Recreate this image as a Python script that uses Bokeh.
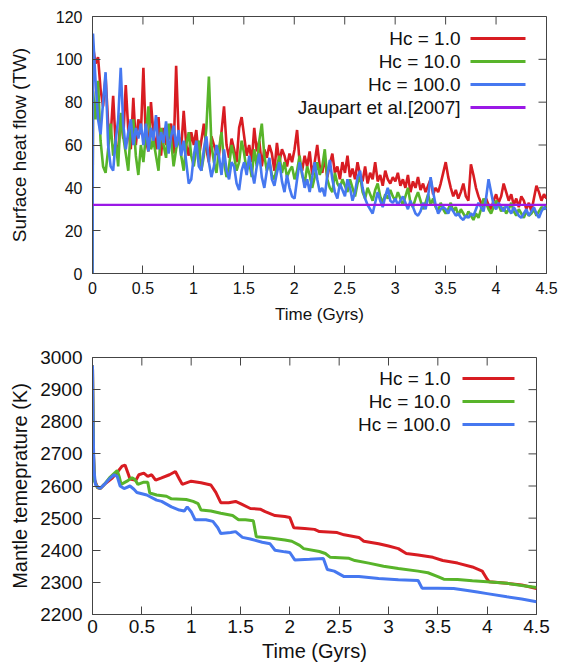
import numpy as np
from bokeh.plotting import figure
from bokeh.models import Range1d, FixedTicker, NumeralTickFormatter, Label, BoxAnnotation
from bokeh.layouts import column
from bokeh.embed import file_html
from bokeh.resources import INLINE

FONT = "Liberation Sans"
AX = "#444444"
TXT = "#111111"
C_RED = "#d81c22"
C_GREEN = "#58b42a"
C_BLUE = "#4678f0"
C_PURPLE = "#9a18e6"

# ---------------- data: surface heat flow (TW) ----------------
series_labels = ["Hc = 1.0", "Hc = 10.0", "Hc = 100.0"]
jaupart_label = "Jaupart et al.[2007]"
jaupart_value = 32

hf_red = [0,
    106, 98, 101, 86, 78, 92, 70, 64, 83, 60, 57, 74, 63, 88, 67, 58, 82, 60, 72, 65,
    96, 62, 57, 80, 65, 58, 73, 55, 68, 60, 63, 70, 56, 97, 64, 58, 76, 60, 55, 66,
    60, 67, 54, 62, 70, 58, 52, 64, 60, 56, 55, 66, 78, 60, 54, 63, 58, 52, 68, 73,
    64, 55, 60, 52, 68, 57, 62, 50, 58, 54, 60, 56, 48, 61, 52, 58, 55, 50, 56, 52,
    58, 67, 52, 48, 55, 50, 57, 46, 52, 60, 50, 47, 54, 45, 51, 56, 47, 50, 44, 52,
    47, 55, 45, 49, 44, 52, 46, 43, 50, 42, 47, 44, 52, 43, 46, 41, 48, 44, 42, 45,
    43, 47, 41, 44, 40, 46, 38, 43, 40, 45, 39, 42, 38, 41, 44, 37, 40, 38, 42, 47,
    52, 45, 40, 36, 39, 35, 38, 42, 36, 34, 51, 46, 40, 36, 33, 31, 35, 32, 30, 34,
    37, 33, 36, 42, 38, 34, 37, 32, 35, 31, 36, 34, 30, 33, 29, 35, 41, 38, 34, 37,
    35]
hf_green = [0,
    85, 72, 90, 62, 50, 47, 58, 70, 55, 62, 50, 75, 64, 56, 48, 68, 72, 55, 46, 60,
    52, 65, 78, 58, 62, 55, 48, 68, 60, 54, 70, 62, 50, 58, 64, 55, 48, 60, 66, 55,
    50, 58, 62, 48, 55, 68, 92, 60, 52, 47, 58, 66, 52, 45, 50, 60, 55, 48, 52, 62,
    56, 48, 52, 45, 58, 50, 62, 70, 55, 48, 52, 46, 44, 50, 55, 47, 52, 45, 48, 50,
    44, 48, 55, 46, 42, 50, 46, 40, 45, 52, 46, 50, 58, 44, 40, 38, 47, 42, 40, 44,
    41, 38, 44, 40, 36, 42, 46, 38, 35, 40, 37, 34, 39, 42, 36, 33, 37, 35, 39, 36,
    34, 38, 35, 32, 36, 40, 33, 31, 35, 38, 34, 30, 33, 37, 32, 35, 31, 29, 33, 30,
    28, 30, 33, 29, 31, 27, 30, 28, 26, 29, 27, 25, 28, 26, 30, 35, 33, 30, 28, 31,
    34, 32, 29, 31, 28, 30, 33, 29, 27, 30, 28, 26, 29, 27, 28, 30, 27, 29, 31, 30,
    32]
hf_blue = [0,
    112, 90, 72, 65, 80, 94, 60, 50, 48, 62, 72, 96, 70, 58, 66, 72, 60, 68, 63, 70,
    60, 70, 57, 68, 62, 74, 58, 66, 61, 71, 56, 64, 69, 59, 67, 55, 62, 52, 42, 44,
    55, 62, 50, 48, 58, 64, 52, 45, 50, 60, 55, 46, 58, 48, 44, 52, 50, 42, 39, 48,
    52, 46, 55, 48, 42, 50, 56, 45, 40, 48, 54, 44, 41, 47, 52, 43, 38, 46, 40, 36,
    35, 44, 52, 47, 40, 44, 38, 45, 52, 44, 38, 40, 36, 46, 53, 44, 38, 35, 42, 39,
    36, 44, 40, 34, 38, 45, 48, 40, 35, 32, 30, 28, 33, 38, 34, 31, 36, 40, 34, 33,
    35, 32, 34, 36, 33, 30, 34, 31, 28, 27, 29, 33, 30, 36, 45, 38, 32, 28, 30, 31,
    30, 28, 31, 29, 27, 28, 26, 25, 27, 26, 28, 27, 30, 33, 31, 29, 35, 44, 38, 32,
    30, 33, 31, 29, 32, 30, 28, 31, 29, 27, 26, 28, 30, 27, 29, 31, 28, 26, 29, 31,
    30]
hf_time = [0.0] + list(np.linspace(0.005, 4.5, 181))

# ---------------- data: mantle temperature (K) ----------------
mt_red_t = [0, 0.01, 0.02, 0.05, 0.08, 0.12, 0.2, 0.27, 0.3, 0.33, 0.36, 0.38, 0.44, 0.47, 0.52,
            0.56, 0.6, 0.64, 0.7, 0.78, 0.84, 0.88, 0.91, 1.0, 1.1, 1.2, 1.25, 1.3, 1.38, 1.45,
            1.5, 1.6, 1.7, 1.75, 1.85, 1.95, 2.0, 2.04, 2.15, 2.25, 2.3, 2.48, 2.55, 2.7, 2.75,
            2.9, 3.0, 3.1, 3.18, 3.3, 3.45, 3.55, 3.7, 3.85, 3.95, 4.0, 4.02, 4.2, 4.35, 4.5]
mt_red = [2975, 2700, 2620, 2595, 2592, 2605, 2625, 2650, 2662, 2665, 2640, 2622, 2618, 2635, 2640,
          2630, 2635, 2618, 2625, 2635, 2645, 2622, 2605, 2615, 2610, 2603, 2580, 2548, 2548, 2552,
          2545, 2530, 2528, 2520, 2508, 2505, 2502, 2470, 2468, 2465, 2458, 2455, 2448, 2440, 2428,
          2420, 2413, 2405, 2390, 2385, 2378, 2368, 2360, 2348, 2335, 2310, 2302, 2297, 2292, 2281]
mt_green_t = [0, 0.01, 0.02, 0.05, 0.08, 0.12, 0.18, 0.25, 0.27, 0.29, 0.35, 0.4, 0.43, 0.46, 0.52,
              0.56, 0.58, 0.65, 0.75, 0.8, 0.95, 1.02, 1.07, 1.1, 1.2, 1.3, 1.42, 1.48, 1.55, 1.63,
              1.66, 1.8, 1.95, 2.02, 2.1, 2.14, 2.3, 2.36, 2.41, 2.6, 2.66, 2.8, 2.95, 3.1, 3.3,
              3.4, 3.5, 3.56, 3.7, 3.85, 4.0, 4.2, 4.35, 4.5]
mt_green = [2975, 2700, 2615, 2595, 2593, 2605, 2628, 2648, 2630, 2605, 2615, 2626, 2620, 2605, 2612,
            2612, 2578, 2572, 2568, 2560, 2558, 2552, 2545, 2525, 2522, 2515, 2508, 2495, 2495, 2492,
            2442, 2438, 2432, 2428, 2415, 2405, 2396, 2390, 2378, 2375, 2368, 2360, 2350, 2343, 2335,
            2330, 2318, 2310, 2309, 2305, 2302, 2297, 2290, 2284]
mt_blue_t = [0, 0.005, 0.015, 0.03, 0.06, 0.08, 0.12, 0.17, 0.22, 0.25, 0.28, 0.32, 0.38, 0.42, 0.45,
             0.55, 0.65, 0.7, 0.8, 0.88, 0.93, 0.96, 1.0, 1.04, 1.15, 1.22, 1.27, 1.3, 1.4, 1.45,
             1.52, 1.6, 1.72, 1.8, 1.85, 1.95, 2.0, 2.05, 2.2, 2.34, 2.38, 2.45, 2.55, 2.7, 2.9,
             3.1, 3.3, 3.34, 3.5, 3.66, 3.8, 3.9, 4.0, 4.2, 4.35, 4.5]
mt_blue = [2975, 2800, 2650, 2605, 2595, 2593, 2605, 2622, 2635, 2630, 2600, 2592, 2600, 2590, 2580,
           2572, 2556, 2552, 2535, 2525, 2522, 2535, 2520, 2495, 2495, 2490, 2470, 2452, 2455, 2458,
           2440, 2435, 2425, 2420, 2400, 2395, 2393, 2370, 2372, 2374, 2340, 2335, 2318, 2318, 2312,
           2308, 2306, 2282, 2282, 2281, 2275, 2270, 2265, 2255, 2248, 2240]

x_start, x_end = 0.0, 4.5
hf_min, hf_max = 0, 120
mt_min, mt_max = 2200, 3000
x_ticks = [0, 0.5, 1, 1.5, 2, 2.5, 3, 3.5, 4, 4.5]
hf_ticks = [0, 20, 40, 60, 80, 100, 120]
mt_ticks = [2200, 2300, 2400, 2500, 2600, 2700, 2800, 2900, 3000]

TICK_LEN = 8


def style_axes(p, xt, yt, y_top, tick_fs, xlabel_fs, ylabel_fs, ylab_standoff,
               xtick_standoff, xlab_standoff):
    p.xaxis.ticker = FixedTicker(ticks=xt)
    p.yaxis.ticker = FixedTicker(ticks=yt)
    p.xaxis.formatter = NumeralTickFormatter(format="0.[0]")
    for ax in (p.xaxis[0], p.yaxis[0]):
        ax.major_tick_in = TICK_LEN
        ax.major_tick_out = 0
        ax.minor_tick_line_color = None
        ax.axis_line_color = AX
        ax.major_tick_line_color = AX
        ax.major_label_text_font = FONT
        ax.major_label_text_font_size = tick_fs
        ax.major_label_text_color = TXT
        ax.axis_label_text_font = FONT
        ax.axis_label_text_font_style = "normal"
        ax.axis_label_text_color = TXT
    p.xaxis[0].axis_label_text_font_size = xlabel_fs
    p.yaxis[0].axis_label_text_font_size = ylabel_fs
    p.yaxis[0].major_label_standoff = 10
    p.yaxis[0].axis_label_standoff = ylab_standoff
    p.xaxis[0].major_label_standoff = xtick_standoff
    p.xaxis[0].axis_label_standoff = xlab_standoff
    # mirrored inward ticks on top and right edges (gnuplot style)
    p.ray(x=xt, y=[y_top] * len(xt), length=TICK_LEN, length_units="screen",
          angle=-90, angle_units="deg", line_color=AX, line_width=1)
    p.ray(x=[x_end] * len(yt), y=yt, length=TICK_LEN, length_units="screen",
          angle=180, angle_units="deg", line_color=AX, line_width=1)
    p.grid.visible = False
    p.outline_line_color = AX


def add_key(p, labels, colors, frame_h, text_right, line_left, line_right, row0, row_gap):
    for i, (lab, col) in enumerate(zip(labels, colors)):
        yc = frame_h - (row0 + i * row_gap)
        p.add_layout(Label(x=text_right, y=yc, x_units="screen", y_units="screen", text=lab,
                           text_align="right", text_baseline="middle", text_font=FONT,
                           text_font_size="19px", text_color=TXT))
        p.add_layout(BoxAnnotation(left=line_left, right=line_right, bottom=yc - 1.4, top=yc + 1.4,
                                   left_units="screen", right_units="screen",
                                   bottom_units="screen", top_units="screen",
                                   fill_color=col, fill_alpha=1.0, line_color=None))


# ---------------- top panel ----------------
TOP_FRAME_H = 257
p1 = figure(width=560, height=332, output_backend="svg", toolbar_location=None,
            x_range=Range1d(x_start, x_end), y_range=Range1d(hf_min, hf_max),
            min_border_left=92, min_border_right=14, min_border_top=16, min_border_bottom=59,
            x_axis_label="Time (Gyrs)", y_axis_label="Surface heat flow (TW)")
style_axes(p1, x_ticks, hf_ticks, hf_max, "16px", "17px", "19px", 23, 8, 8)

p1.line(hf_time, hf_red, line_color=C_RED, line_width=2.6)
p1.line(hf_time, hf_green, line_color=C_GREEN, line_width=2.6)
p1.line(hf_time, hf_blue, line_color=C_BLUE, line_width=2.6)
p1.line([x_start, x_end], [jaupart_value, jaupart_value], line_color=C_PURPLE, line_width=2.2)
add_key(p1, series_labels + [jaupart_label], [C_RED, C_GREEN, C_BLUE, C_PURPLE],
        TOP_FRAME_H, 368, 378, 433, 22, 23)

# ---------------- bottom panel ----------------
BOT_FRAME_H = 257
p2 = figure(width=550, height=337, output_backend="svg", toolbar_location=None,
            x_range=Range1d(x_start, x_end), y_range=Range1d(mt_min, mt_max),
            min_border_left=92, min_border_right=14, min_border_top=25, min_border_bottom=55,
            x_axis_label="Time (Gyrs)", y_axis_label="Mantle temeprature (K)")
style_axes(p2, x_ticks, mt_ticks, mt_max, "19px", "20px", "20px", 6, 5, 4)

p2.line(mt_red_t, mt_red, line_color=C_RED, line_width=3)
p2.line(mt_green_t, mt_green, line_color=C_GREEN, line_width=3)
p2.line(mt_blue_t, mt_blue, line_color=C_BLUE, line_width=3)
add_key(p2, series_labels, [C_RED, C_GREEN, C_BLUE], BOT_FRAME_H, 358, 370, 422, 21, 23)

layout = column(p1, p2, spacing=0)
open("out.html", "w").write(file_html(layout, INLINE))
